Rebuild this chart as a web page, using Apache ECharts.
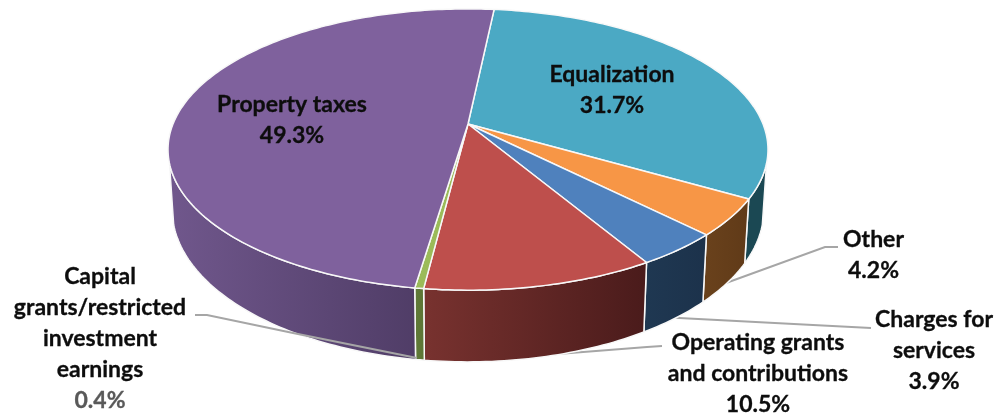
<!DOCTYPE html>
<html>
<head>
<meta charset="utf-8">
<style>html,body{margin:0;padding:0;background:#fff}#chart{width:998px;height:419px}</style>
<script src="https://cdn.jsdelivr.net/npm/echarts@6/dist/echarts.min.js"></script>
</head>
<body>
<div id="chart"></div>
<script>
// Revenue shares, clockwise from the top seam of the pie.
const categories = ['Equalization', 'Other', 'Charges for services', 'Operating grants and contributions', 'Capital grants/restricted investment earnings', 'Property taxes'];
const shares = [31.7, 4.2, 3.9, 10.5, 0.4, 49.3];

// Office-style theme colours for faces and shaded side walls.
const faceColors = ['#4BA9C4', '#F79646', '#4F81BD', '#BE4F4C', '#9BBB59', '#7F619D'];
const wallColors = [
  ['#1B4853', '#1B4853'], ['#6A421C', '#603A18'], ['#1F3852', '#1C324B'],
  ['#78322F', '#4A1B1B'], ['#607A38', '#5C7535'], ['#70578C', '#503D67']
];

// Perspective disc: a unit circle projected on to the top and bottom planes.
const START_ANGLE = 6;
const WALL_FROM = 106, WALL_TO = 254;
const topPlane = { cx: 468, cy: 124, rx: 295, ry: 136, k: 0.1815 };
const bottomPlane = { cx: 468, cy: 182, rx: 291, ry: 147.5, k: 0.18 };

function project(plane, deg) {
  const a = deg * Math.PI / 180, u = Math.sin(a), v = -Math.cos(a), w = 1 - plane.k * v;
  return [plane.cx + plane.rx * u / w, plane.cy + plane.ry * v / w];
}
function arc(plane, from, to) {
  const pts = [], n = Math.max(2, Math.ceil(Math.abs(to - from)));
  for (let i = 0; i <= n; i++) pts.push(project(plane, from + (to - from) * i / n));
  return pts;
}

const spans = [];
shares.reduce((acc, s) => {
  const total = shares.reduce((a, b) => a + b, 0), sweep = s / total * 360;
  spans.push([acc, acc + sweep]);
  return acc + sweep;
}, START_ANGLE);

const edge = { stroke: '#F8F8F8', lineWidth: 1.5, lineJoin: 'round' };

function renderWall(params) {
  const i = params.dataIndex;
  const from = Math.max(spans[i][0], WALL_FROM), to = Math.min(spans[i][1], WALL_TO);
  if (to <= from) return { type: 'group', children: [] };
  const upper = arc(topPlane, from, to), lower = arc(bottomPlane, to, from);
  const xs = upper.concat(lower).map(p => p[0]);
  const fill = new echarts.graphic.LinearGradient(
    Math.min(...xs), 0, Math.max(...xs), 0,
    [{ offset: 0, color: wallColors[i][0] }, { offset: 1, color: wallColors[i][1] }], true);
  return { type: 'polygon', shape: { points: upper.concat(lower) }, style: Object.assign({ fill }, edge) };
}

function renderFace(params) {
  const i = params.dataIndex;
  return {
    type: 'polygon',
    shape: { points: [[topPlane.cx, topPlane.cy]].concat(arc(topPlane, spans[i][0], spans[i][1])) },
    style: Object.assign({ fill: faceColors[i] }, edge)
  };
}

// Callout layout: wrapped label lines with their centre x and first-line y.
const LINE_STEP = 31;
const callouts = [
  { lines: ['Equalization'], x: 612, y: 75 },
  { lines: ['Other'], x: 873.5, y: 240 },
  { lines: ['Charges for', 'services'], x: 934, y: 320 },
  { lines: ['Operating grants', 'and contributions'], x: 758, y: 343 },
  { lines: ['Capital', 'grants/restricted', 'investment', 'earnings'], x: 100, y: 277, valueColor: '#595959' },
  { lines: ['Property taxes'], x: 292, y: 105 }
];

function renderLabel(params) {
  const i = params.dataIndex, c = callouts[i];
  const rows = c.lines.concat([shares[i].toFixed(1) + '%']);
  return {
    type: 'group',
    children: rows.map((t, r) => {
      const color = (r === rows.length - 1 && c.valueColor) || '#0D0D0D';
      return {
        type: 'text',
        style: {
          text: t, x: c.x, y: c.y + r * LINE_STEP, align: 'center', verticalAlign: 'middle',
          fill: color, stroke: color, lineWidth: 0.3,
          font: 'bold 23px Lato'
        }
      };
    })
  };
}

// Leader lines; all but the last run underneath the wall.
const leaders = [
  [[838, 247], [825, 247], [715, 287]],
  [[871, 328], [813, 325], [660, 317]],
  [[662, 346], [647, 347], [545, 355]]
];
const frontLeader = [[195, 315], [207, 315], [293, 333], [417, 358]];
const leaderStyle = { stroke: '#A6A6A6', lineWidth: 2, fill: null };

function renderLeader(path) {
  return { type: 'polyline', shape: { points: path }, style: leaderStyle };
}

const none = { coordinateSystem: 'none', silent: true, animation: false };
const chart = echarts.init(document.getElementById('chart'), null, { renderer: 'canvas' });
chart.setOption({
  backgroundColor: '#fff',
  animation: false,
  series: [
    Object.assign({ type: 'custom', name: 'leaders', z: 1, data: leaders.map((_, i) => [i]), renderItem: p => renderLeader(leaders[p.dataIndex]) }, none),
    Object.assign({ type: 'custom', name: 'walls', z: 2, data: shares.map(s => [s]), renderItem: renderWall }, none),
    Object.assign({ type: 'custom', name: 'front leader', z: 3, data: [[0]], renderItem: () => renderLeader(frontLeader) }, none),
    Object.assign({ type: 'custom', name: 'faces', z: 4, data: shares.map(s => [s]), renderItem: renderFace }, none),
    Object.assign({ type: 'custom', name: 'labels', z: 5, data: categories.map((c, i) => [shares[i], c]), renderItem: renderLabel }, none)
  ]
});
</script>
</body>
</html>
